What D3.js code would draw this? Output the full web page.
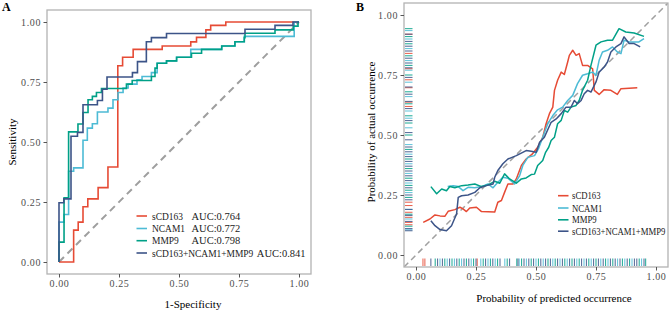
<!DOCTYPE html>
<html>
<head>
<meta charset="utf-8">
<script src="https://cdn.jsdelivr.net/npm/d3@7"></script>
<style>
  body { margin: 0; background: #fff; }
  text { font-family: "Liberation Serif", "DejaVu Serif", serif; }
</style>
</head>
<body>
<script>
// ---- data ----
const seriesNames = ["sCD163", "NCAM1", "MMP9", "sCD163+NCAM1+MMP9"];
const aucLabels = ["AUC:0.764", "AUC:0.772", "AUC:0.798", "AUC:0.841"];
const colors = ["#E64B35", "#4DBBD5", "#00A087", "#3C5488"];
const tickVals = [0, 0.25, 0.5, 0.75, 1];

// ROC points [1-specificity, sensitivity]
const rocSCD163 = [[0,0],[0.061,0.133],[0.08,0.166],[0.10,0.23],[0.12,0.263],[0.163,0.31],[0.204,0.396],[0.245,0.818],[0.265,0.853],[0.309,0.886],[0.43,0.90],[0.549,0.917],[0.573,0.936],[0.612,0.967],[0.632,0.986],[0.695,1],[1,1]];
const rocNCAM1 = [[0,0],[0,0.166],[0.021,0.198],[0.04,0.378],[0.061,0.392],[0.10,0.507],[0.118,0.558],[0.139,0.576],[0.16,0.625],[0.204,0.641],[0.225,0.676],[0.246,0.706],[0.267,0.725],[0.288,0.741],[0.325,0.759],[0.346,0.773],[0.385,0.789],[0.409,0.828],[0.448,0.838],[0.49,0.853],[0.549,0.886],[0.678,0.90],[0.733,0.918],[0.772,0.94],[0.98,1],[1,1]];
const rocMMP9 = [[0,0],[0,0.083],[0.021,0.268],[0.04,0.542],[0.079,0.575],[0.10,0.623],[0.121,0.676],[0.139,0.69],[0.156,0.706],[0.177,0.723],[0.281,0.741],[0.305,0.756],[0.385,0.773],[0.40,0.808],[0.409,0.828],[0.448,0.838],[0.49,0.853],[0.552,0.87],[0.594,0.886],[0.678,0.90],[0.733,0.918],[0.772,0.935],[0.775,0.953],[0.90,0.967],[0.976,0.983],[0.996,1],[1,1]];
const rocCombined = [[0,0],[0,0.247],[0.02,0.263],[0.05,0.524],[0.077,0.54],[0.10,0.655],[0.16,0.673],[0.181,0.72],[0.20,0.771],[0.306,0.789],[0.327,0.835],[0.364,0.918],[0.385,0.935],[0.448,0.952],[0.775,0.97],[0.90,0.986],[0.975,1],[1,1]];

// calibration points [predicted, actual]
const calSCD163 = [[0.030,0.136],[0.058,0.150],[0.079,0.167],[0.100,0.163],[0.120,0.161],[0.134,0.182],[0.162,0.189],[0.183,0.199],[0.196,0.192],[0.210,0.181],[0.224,0.196],[0.252,0.199],[0.273,0.181],[0.328,0.179],[0.341,0.220],[0.356,0.227],[0.369,0.261],[0.383,0.296],[0.404,0.296],[0.418,0.317],[0.439,0.373],[0.459,0.400],[0.484,0.420],[0.507,0.449],[0.528,0.490],[0.542,0.547],[0.556,0.589],[0.570,0.616],[0.577,0.686],[0.590,0.728],[0.605,0.762],[0.618,0.752],[0.632,0.804],[0.639,0.832],[0.653,0.853],[0.667,0.832],[0.680,0.839],[0.694,0.790],[0.715,0.790],[0.736,0.776],[0.743,0.686],[0.763,0.669],[0.784,0.689],[0.812,0.686],[0.839,0.669],[0.854,0.693],[0.922,0.697]];
const calNCAM1 = [[0.132,0.285],[0.155,0.289],[0.176,0.285],[0.196,0.268],[0.217,0.282],[0.245,0.280],[0.273,0.285],[0.300,0.296],[0.321,0.280],[0.341,0.303],[0.362,0.324],[0.383,0.320],[0.411,0.296],[0.432,0.331],[0.445,0.373],[0.466,0.407],[0.494,0.414],[0.510,0.442],[0.528,0.491],[0.549,0.547],[0.570,0.581],[0.590,0.605],[0.611,0.616],[0.632,0.644],[0.653,0.665],[0.673,0.714],[0.694,0.749],[0.715,0.755],[0.736,0.762],[0.750,0.749],[0.763,0.811],[0.777,0.846],[0.798,0.853],[0.819,0.867],[0.839,0.846],[0.854,0.839],[0.867,0.895],[0.888,0.888],[0.929,0.888],[0.950,0.902]];
const calMMP9 = [[0.062,0.285],[0.086,0.255],[0.107,0.275],[0.127,0.268],[0.141,0.285],[0.162,0.280],[0.190,0.289],[0.217,0.292],[0.245,0.296],[0.273,0.285],[0.300,0.292],[0.328,0.307],[0.349,0.299],[0.369,0.338],[0.390,0.317],[0.418,0.299],[0.439,0.317],[0.459,0.321],[0.480,0.335],[0.494,0.337],[0.507,0.373],[0.528,0.394],[0.540,0.428],[0.553,0.449],[0.563,0.477],[0.577,0.491],[0.590,0.547],[0.605,0.561],[0.618,0.602],[0.632,0.595],[0.646,0.616],[0.667,0.623],[0.680,0.644],[0.694,0.686],[0.715,0.728],[0.729,0.790],[0.750,0.874],[0.771,0.888],[0.798,0.895],[0.819,0.895],[0.846,0.943],[0.874,0.929],[0.909,0.925],[0.950,0.911]];
const calCombined = [[0.062,0.143],[0.079,0.122],[0.100,0.106],[0.127,0.101],[0.148,0.122],[0.169,0.171],[0.176,0.240],[0.190,0.247],[0.217,0.250],[0.245,0.261],[0.266,0.280],[0.293,0.289],[0.321,0.296],[0.328,0.324],[0.341,0.352],[0.362,0.380],[0.383,0.400],[0.418,0.414],[0.459,0.435],[0.480,0.432],[0.501,0.428],[0.515,0.470],[0.535,0.491],[0.563,0.553],[0.584,0.567],[0.605,0.589],[0.625,0.616],[0.646,0.616],[0.660,0.644],[0.673,0.630],[0.688,0.644],[0.701,0.672],[0.715,0.686],[0.729,0.679],[0.750,0.721],[0.763,0.762],[0.784,0.783],[0.798,0.804],[0.812,0.846],[0.833,0.867],[0.854,0.881],[0.867,0.909],[0.888,0.881],[0.909,0.881],[0.934,0.867]];

// rug values
const rugXSCD163 = [0.029, 0.037, 0.255];
const rugXNCAM1 = [0.10, 0.13, 0.16, 0.19, 0.23, 0.27, 0.30, 0.33, 0.37, 0.43, 0.46, 0.50, 0.53, 0.57, 0.60, 0.63, 0.67, 0.70, 0.73, 0.77, 0.80, 0.84, 0.87, 0.90, 0.94];
const rugXMMP9 = [0.08, 0.12, 0.15, 0.18, 0.21, 0.24, 0.28, 0.31, 0.34, 0.38, 0.42, 0.44, 0.48, 0.51, 0.55, 0.58, 0.62, 0.65, 0.68, 0.72, 0.75, 0.79, 0.82, 0.86, 0.89, 0.93, 0.957];
const rugXCombined = [0.062, 0.09, 0.11, 0.14, 0.17, 0.20, 0.22, 0.25, 0.29, 0.32, 0.35, 0.39, 0.425, 0.45, 0.47, 0.49, 0.52, 0.54, 0.56, 0.59, 0.61, 0.64, 0.66, 0.69, 0.71, 0.74, 0.76, 0.78, 0.81, 0.83, 0.85, 0.88, 0.91, 0.92, 0.95];
const rugYSCD163 = [0.126, 0.136, 0.157, 0.178, 0.206, 0.22, 0.619, 0.637, 0.697, 0.73, 0.776, 0.84, 0.92];
const rugYNCAM1 = [0.105, 0.15, 0.19, 0.26, 0.30, 0.34, 0.38, 0.42, 0.46, 0.53, 0.57, 0.60, 0.66, 0.72, 0.77, 0.81, 0.86, 0.90, 0.935];
const rugYMMP9 = [0.12, 0.17, 0.24, 0.27, 0.29, 0.32, 0.36, 0.40, 0.44, 0.50, 0.55, 0.58, 0.63, 0.68, 0.75, 0.79, 0.83, 0.88, 0.91, 0.943];
const rugYCombined = [0.101, 0.11, 0.14, 0.165, 0.19, 0.23, 0.25, 0.28, 0.31, 0.33, 0.35, 0.37, 0.39, 0.41, 0.43, 0.45, 0.48, 0.51, 0.56, 0.61, 0.64, 0.67, 0.70, 0.74, 0.78, 0.80, 0.82, 0.85, 0.87, 0.89, 0.92];

const rocData = [rocSCD163, rocNCAM1, rocMMP9, rocCombined];
const calData = [calSCD163, calNCAM1, calMMP9, calCombined];
const rugX = [rugXSCD163, rugXNCAM1, rugXMMP9, rugXCombined];
const rugY = [rugYSCD163, rugYNCAM1, rugYMMP9, rugYCombined];

//SVG
const width = 669;
const height = 311;
const svg = d3.select("body")
    .append("svg")
    .attr("width", width)
    .attr("height", height)
    .attr("viewBox", [0, 0, width, height]);

const fmt = d3.format(".2f");

function drawAxes(x, y, panel) {
    const xAxis = d3.axisBottom(x).tickValues(tickVals).tickFormat(fmt).tickSize(3.5).tickPadding(2.5);
    const yAxis = d3.axisLeft(y).tickValues(tickVals).tickFormat(fmt).tickSize(3.5).tickPadding(2.5);
    const gx = svg.append("g")
        .attr("transform", `translate(0, ${panel.b})`)
        .call(xAxis);
    const gy = svg.append("g")
        .attr("transform", `translate(${panel.l}, 0)`)
        .call(yAxis);
    [gx, gy].forEach(g => {
        g.select(".domain").remove();
        g.selectAll("line").attr("stroke", "#555");
        g.selectAll("text")
            .attr("fill", "#4D4D4D")
            .attr("font-size", "10px")
            .attr("letter-spacing", "0.6px")
            .style("font-family", "'Liberation Serif', serif");
    });
}

function drawBorder(panel) {
    svg.append("rect")
        .attr("x", panel.l)
        .attr("y", panel.t)
        .attr("width", panel.r - panel.l)
        .attr("height", panel.b - panel.t)
        .attr("fill", "none")
        .attr("stroke", "#B3B3B3")
        .attr("stroke-width", 1.3);
}

// legend text drawn a little narrower, the original font runs tighter
function legendText(parent, x, y, k, label) {
    const t = parent.append("g")
        .attr("transform", `translate(${x}, ${y}) scale(${k}, 1)`)
        .append("text")
        .attr("font-size", "10.5px")
        .attr("fill", "#222")
        .text(label);
    return t.node().getComputedTextLength() * k;
}

// ================= Panel A: ROC =================
const pA = {l: 47, r: 311, t: 10, b: 274};
const xA = d3.scaleLinear().domain([-0.05, 1.05]).range([pA.l, pA.r]);
const yA = d3.scaleLinear().domain([-0.05, 1.05]).range([pA.b, pA.t]);

//Diagonal
svg.append("line")
    .attr("x1", xA(0)).attr("y1", yA(0))
    .attr("x2", xA(1)).attr("y2", yA(1))
    .attr("stroke", "#9E9E9E")
    .attr("stroke-width", 2)
    .attr("stroke-dasharray", "7,5");

const rocLine = d3.line()
    .x(d => xA(d[0]))
    .y(d => yA(d[1]))
    .curve(d3.curveStepAfter);

rocData.forEach((d, i) => {
    svg.append("path")
        .attr("d", rocLine(d))
        .attr("fill", "none")
        .attr("stroke", colors[i])
        .attr("stroke-width", 1.6);
});

drawBorder(pA);
drawAxes(xA, yA, pA);

//Legend A
const legA = svg.append("g");
const legAY = [216, 228.5, 240.7, 253];
seriesNames.forEach((name, i) => {
    legA.append("line")
        .attr("x1", 136.5).attr("x2", 147)
        .attr("y1", legAY[i]).attr("y2", legAY[i])
        .attr("stroke", colors[i])
        .attr("stroke-width", 1.6);
    const w = legendText(legA, 152, legAY[i] + 3.6, 0.9, name);
    legendText(legA, i < 3 ? 191.5 : 152 + w + 3.5, legAY[i] + 3.6, 1, aucLabels[i]);
});

//Labels A
svg.append("text")
    .attr("x", 2).attr("y", 11)
    .attr("font-size", "12px")
    .attr("font-weight", "bold")
    .text("A");
svg.append("text")
    .attr("x", (pA.l + pA.r) / 2 + 14)
    .attr("y", 308)
    .attr("text-anchor", "middle")
    .attr("font-size", "11px")
    .text("1-Specificity");
svg.append("text")
    .attr("transform", `translate(16, ${(pA.t + pA.b) / 2}) rotate(-90)`)
    .attr("text-anchor", "middle")
    .attr("font-size", "11px")
    .text("Sensitivity");

// ================= Panel B: calibration =================
const pB = {l: 404, r: 668, t: 3, b: 267};
const xB = d3.scaleLinear().domain([-0.05, 1.05]).range([pB.l, pB.r]);
const yB = d3.scaleLinear().domain([-0.05, 1.05]).range([pB.b, pB.t]);

svg.append("clipPath").attr("id", "clipB")
    .append("rect")
    .attr("x", pB.l).attr("y", pB.t)
    .attr("width", pB.r - pB.l).attr("height", pB.b - pB.t);

//Diagonal
svg.append("line")
    .attr("clip-path", "url(#clipB)")
    .attr("x1", xB(-0.05)).attr("y1", yB(-0.05))
    .attr("x2", xB(1.05)).attr("y2", yB(1.05))
    .attr("stroke", "#A0A0A0")
    .attr("stroke-width", 1.5)
    .attr("stroke-dasharray", "6,4");

//Rugs
const rugLen = 7.5;
rugX.forEach((vals, i) => {
    svg.append("g").selectAll("line")
        .data(vals)
        .enter()
        .append("line")
        .attr("x1", d => xB(d)).attr("x2", d => xB(d))
        .attr("y1", pB.b - 1).attr("y2", pB.b - 1 - rugLen)
        .attr("stroke", colors[i])
        .attr("stroke-opacity", 0.9)
        .attr("stroke-width", 1);
});
rugY.forEach((vals, i) => {
    svg.append("g").selectAll("line")
        .data(vals)
        .enter()
        .append("line")
        .attr("y1", d => yB(d)).attr("y2", d => yB(d))
        .attr("x1", pB.l + 1).attr("x2", pB.l + 1 + rugLen)
        .attr("stroke", colors[i])
        .attr("stroke-opacity", 0.9)
        .attr("stroke-width", 1);
});

const calLine = d3.line()
    .x(d => xB(d[0]))
    .y(d => yB(d[1]));

calData.forEach((d, i) => {
    svg.append("path")
        .attr("d", calLine(d))
        .attr("fill", "none")
        .attr("stroke", colors[i])
        .attr("stroke-width", 1.5)
        .attr("stroke-linejoin", "round");
});

drawBorder(pB);
drawAxes(xB, yB, pB);

//Legend B
const legB = svg.append("g");
const legBY = [195.7, 208, 219.8, 231.2];
seriesNames.forEach((name, i) => {
    legB.append("line")
        .attr("x1", 558).attr("x2", 568.5)
        .attr("y1", legBY[i]).attr("y2", legBY[i])
        .attr("stroke", colors[i])
        .attr("stroke-width", 1.6);
    legendText(legB, 572, legBY[i] + 3.6, 0.83, name);
});

//Labels B
svg.append("text")
    .attr("x", 356).attr("y", 11)
    .attr("font-size", "12px")
    .attr("font-weight", "bold")
    .text("B");
svg.append("text")
    .attr("x", 554)
    .attr("y", 302)
    .attr("text-anchor", "middle")
    .attr("font-size", "11px")
    .text("Probability of predicted occurrence");
svg.append("text")
    .attr("transform", `translate(375, 132) rotate(-90)`)
    .attr("text-anchor", "middle")
    .attr("font-size", "11px")
    .text("Probability of actual occurrence");
</script>
</body>
</html>
